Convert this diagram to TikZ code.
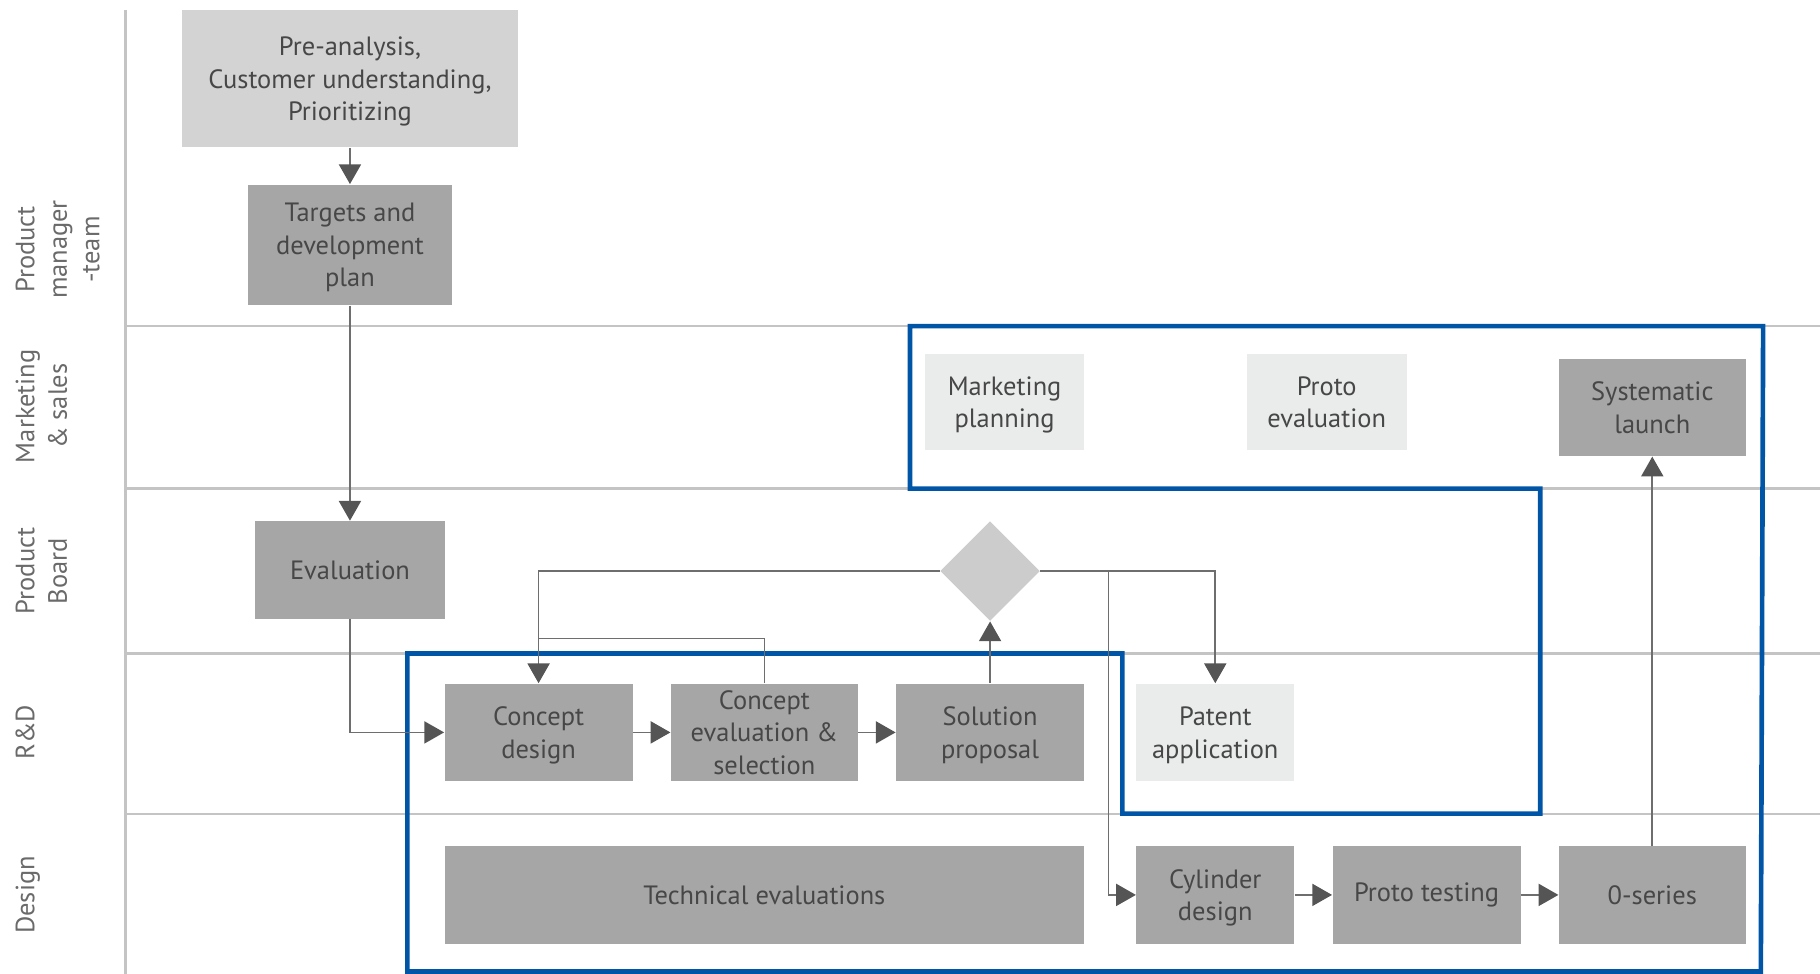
\documentclass[tikz,border=0pt]{standalone}
\usepackage{fontspec}
\setmainfont{PT Sans}
\usetikzlibrary{arrows.meta,shapes.geometric}
\definecolor{txt}{HTML}{474747}
\definecolor{lbl}{HTML}{6A6A6A}
\definecolor{darkbox}{HTML}{A6A6A6}
\definecolor{midbox}{HTML}{D3D3D3}
\definecolor{palebox}{HTML}{EAECEB}
\definecolor{diabox}{HTML}{CCCCCC}
\definecolor{laneline}{HTML}{C4C4C4}
\definecolor{connline}{HTML}{6E6E6E}
\definecolor{headcol}{HTML}{555555}
\definecolor{frameblue}{HTML}{0055A6}
\tikzset{
  box/.style={rectangle, inner sep=0pt, align=center, text=txt, font=\fontsize{11.4}{14}\selectfont, minimum height=42pt},
  ml/.style={text depth=-1pt},
  dbox/.style={box, fill=darkbox},
  mbox/.style={box, fill=midbox},
  pbox/.style={box, fill=palebox},
  lanelbl/.style={rotate=90, anchor=north, align=center, text=lbl, font=\fontsize{11.4}{14}\selectfont, inner sep=0pt},
  ln/.style={draw=connline, line width=0.7pt},
  arr/.style={ln, -{Triangle[length=8.5pt,width=9.5pt,color=headcol]}},
  lanestyle/.style={draw=laneline, line width=1pt},
  frame/.style={draw=frameblue, line width=2pt, line join=miter}
}
\begin{document}
\begin{tikzpicture}[x=0.5pt,y=-0.5pt]
\useasboundingbox (0,0) rectangle (1568,839);
% lanes
\draw[lanestyle] (108,9) -- (108,839);
\draw[lanestyle] (108,281) -- (1568,281);
\draw[lanestyle] (108,421) -- (1568,421);
\draw[lanestyle] (108,563) -- (1568,563);
\draw[lanestyle] (108,701) -- (1568,701);
% lane labels
\node[lanelbl] (l1) at (13,215) {Product\\manager\\-team};
\node[lanelbl] (l2) at (13,350) {Marketing\\\& sales};
\node[lanelbl] (l3) at (13,492) {Product\\Board};
\node[lanelbl] (l4) at (13,631) {R\&D};
\node[lanelbl] (l5) at (13,771) {Design};
% boxes
\node[mbox, ml, minimum width=144.5pt, minimum height=59pt] (pre) at (301.5,68) {Pre-analysis,\\Customer understanding,\\Prioritizing};
\node[dbox, ml, minimum width=87.5pt, minimum height=52pt] (tgt) at (301.5,211) {Targets and\\development\\plan};
\node[dbox, minimum width=81.5pt] (eval) at (301.5,491) {Evaluation};
\node[pbox, ml, minimum width=68.5pt, minimum height=41.5pt] (mkt) at (865.5,346.5) {Marketing\\planning};
\node[pbox, ml, minimum width=69pt, minimum height=41.5pt] (pev) at (1143,346.5) {Proto\\evaluation};
\node[dbox, ml, minimum width=80.5pt] (sl) at (1423.5,351) {Systematic\\launch};
\node[diamond, fill=diabox, minimum width=43pt, minimum height=43pt, inner sep=0pt] (dec) at (853,492) {};
\node[dbox, ml, minimum width=81pt] (cd) at (464,631) {Concept\\design};
\node[dbox, ml, minimum width=80.5pt] (ce) at (658.5,631) {Concept\\evaluation \&\\selection};
\node[dbox, ml, minimum width=81pt] (sp) at (853,631) {Solution\\proposal};
\node[pbox, ml, minimum width=68pt] (pa) at (1047,631) {Patent\\application};
\node[dbox, minimum width=275.5pt] (te) at (658.5,771) {Technical evaluations};
\node[dbox, ml, minimum width=68pt] (cy) at (1047,771) {Cylinder\\design};
\node[dbox, minimum width=81pt] (pt) at (1229,771) {Proto testing};
\node[dbox, minimum width=80.5pt] (zs) at (1423.5,771) {0-series};
% blue frame
\draw[frame] (784,281) -- (1519,281) -- (1517,837) -- (351,837) -- (351,563) -- (967,563) -- (967,701) -- (1327,701) -- (1327,421) -- (784,421) -- cycle;
% connectors
\draw[arr] (pre) -- (tgt);
\draw[arr] (tgt) -- (eval);
\draw[arr] (eval.south) |- (cd.west);
\draw[arr] (cd) -- (ce);
\draw[arr] (ce) -- (sp);
\draw[arr] (sp) -- (dec);
\draw[arr] (dec.west) -| (cd.north);
\coordinate (j1) at (464,550);
\draw[ln] (ce.north) |- (j1);
\draw[arr] (dec.east) -| (pa.north);
\coordinate (j2) at (955,492);
\draw[arr] (j2) |- (cy.west);
\draw[arr] (cy) -- (pt);
\draw[arr] (pt) -- (zs);
\draw[arr] (zs) -- (sl);
\end{tikzpicture}
\end{document}
